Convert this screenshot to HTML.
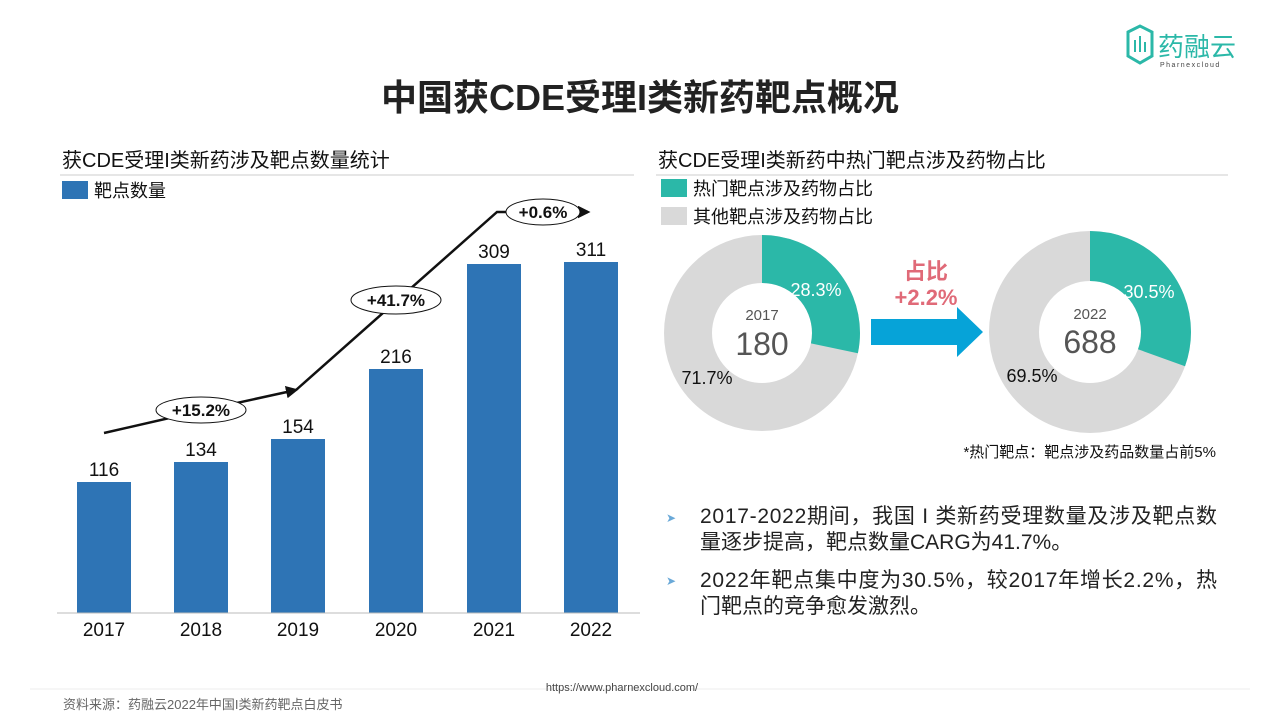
<!DOCTYPE html>
<html><head><meta charset="utf-8"><style>
body{margin:0;width:1280px;height:720px;background:#fff;overflow:hidden;font-family:"Liberation Sans","Noto Sans CJK SC",sans-serif;}
</style></head><body>
<svg width="1280" height="720" xmlns="http://www.w3.org/2000/svg" style="font-family:'Liberation Sans','Noto Sans CJK SC',sans-serif">
<defs><marker id="ah" markerWidth="5" markerHeight="5" refX="4" refY="2.5" orient="auto"><path d="M0,0 L5,2.5 L0,5 z" fill="#111"/></marker></defs>
<!-- logo -->
<path d="M1128,32 L1140,26 L1152,32 L1152,56 L1140,63 L1128,56 Z" fill="none" stroke="#2bb8a8" stroke-width="3"/>
<rect x="1134" y="40" width="2" height="12" fill="#2bb8a8"/><rect x="1139" y="36" width="2" height="16" fill="#2bb8a8"/><rect x="1144" y="42" width="2" height="10" fill="#2bb8a8"/>
<text x="1158" y="56" font-size="26" fill="#2bb8a8">药融云</text>
<text x="1160" y="67" font-size="7" fill="#444" letter-spacing="1.5">Pharnexcloud</text>
<!-- title -->
<text x="640" y="110" font-size="36" font-weight="bold" fill="#222" text-anchor="middle">中国获CDE受理I类新药靶点概况</text>
<text x="62" y="167" font-size="20" fill="#111">获CDE受理I类新药涉及靶点数量统计</text>
<line x1="60" y1="175" x2="634" y2="175" stroke="#ccc"/>
<rect x="62" y="181" width="26" height="18" fill="#2e74b5"/>
<text x="94" y="197" font-size="18" fill="#111">靶点数量</text>
<text x="658" y="167" font-size="20" fill="#111">获CDE受理I类新药中热门靶点涉及药物占比</text>
<line x1="656" y1="175" x2="1228" y2="175" stroke="#ccc"/>
<rect x="661" y="179" width="26" height="18" fill="#2bb8a8"/>
<text x="693" y="195" font-size="18" fill="#111">热门靶点涉及药物占比</text>
<rect x="661" y="207" width="26" height="18" fill="#d9d9d9"/>
<text x="693" y="223" font-size="18" fill="#111">其他靶点涉及药物占比</text>
<!-- bars -->
<g fill="#2e74b5">
<rect x="77" y="482" width="54" height="131"/><rect x="174" y="462" width="54" height="151"/>
<rect x="271" y="439" width="54" height="174"/><rect x="369" y="369" width="54" height="244"/>
<rect x="467" y="264" width="54" height="349"/><rect x="564" y="262" width="54" height="351"/>
</g>
<line x1="57" y1="613" x2="640" y2="613" stroke="#bbb"/>
<g font-size="19" fill="#111" text-anchor="middle">
<text x="104" y="476">116</text><text x="201" y="456">134</text><text x="298" y="433">154</text>
<text x="396" y="363">216</text><text x="494" y="258">309</text><text x="591" y="256">311</text>
<text x="104" y="636">2017</text><text x="201" y="636">2018</text><text x="298" y="636">2019</text>
<text x="396" y="636">2020</text><text x="494" y="636">2021</text><text x="591" y="636">2022</text>
</g>
<polyline points="104,433 200,411 296,390" fill="none" stroke="#111" stroke-width="2.5" marker-end="url(#ah)"/>
<polyline points="296,390 497,212 588,212" fill="none" stroke="#111" stroke-width="2.5" marker-end="url(#ah)"/>
<g font-size="17" font-weight="bold" text-anchor="middle" fill="#111">
<ellipse cx="201" cy="410" rx="45" ry="13" fill="#fff" stroke="#111"/><text x="201" y="416">+15.2%</text>
<ellipse cx="396" cy="300" rx="45" ry="14" fill="#fff" stroke="#111"/><text x="396" y="306">+41.7%</text>
<ellipse cx="543" cy="212" rx="37" ry="13" fill="#fff" stroke="#111"/><text x="543" y="218">+0.6%</text>
</g>
<!-- donuts -->
<g transform="translate(762,333)">
<circle r="74" fill="none" stroke="#d9d9d9" stroke-width="48"/>
<circle r="74" fill="none" stroke="#2bb8a8" stroke-width="48" stroke-dasharray="131.6 465" transform="rotate(-90)"/>
<text x="0" y="-13" font-size="15" fill="#555" text-anchor="middle">2017</text>
<text x="0" y="22" font-size="32" fill="#555" text-anchor="middle">180</text>
<text x="54" y="-37" font-size="18" fill="#fff" text-anchor="middle">28.3%</text>
<text x="-55" y="51" font-size="18" fill="#111" text-anchor="middle">71.7%</text>
</g>
<g transform="translate(1090,332)">
<circle r="76" fill="none" stroke="#d9d9d9" stroke-width="50"/>
<circle r="76" fill="none" stroke="#2bb8a8" stroke-width="50" stroke-dasharray="145.6 478" transform="rotate(-90)"/>
<text x="0" y="-13" font-size="15" fill="#555" text-anchor="middle">2022</text>
<text x="0" y="21" font-size="32" fill="#555" text-anchor="middle">688</text>
<text x="59" y="-34" font-size="18" fill="#fff" text-anchor="middle">30.5%</text>
<text x="-58" y="50" font-size="18" fill="#111" text-anchor="middle">69.5%</text>
</g>
<path d="M871,319 L957,319 L957,307 L983,332 L957,357 L957,345 L871,345 Z" fill="#06a3d8"/>
<text x="926" y="279" font-size="22" font-weight="bold" fill="#e06a78" text-anchor="middle">占比</text>
<text x="926" y="305" font-size="22" font-weight="bold" fill="#e06a78" text-anchor="middle">+2.2%</text>
<text x="1216" y="457" font-size="15" fill="#111" text-anchor="end">*热门靶点：靶点涉及药品数量占前5%</text>
<!-- bullets -->
<g font-size="21" fill="#222">
<text x="666" y="522" font-size="12" fill="#6aa9d8">➤</text>
<text x="700" y="523" textLength="517" lengthAdjust="spacing">2017-2022期间，我国 I 类新药受理数量及涉及靶点数</text>
<text x="700" y="549">量逐步提高，靶点数量CARG为41.7%。</text>
<text x="666" y="585" font-size="12" fill="#6aa9d8">➤</text>
<text x="700" y="587" textLength="517" lengthAdjust="spacing">2022年靶点集中度为30.5%，较2017年增长2.2%，热</text>
<text x="700" y="613">门靶点的竞争愈发激烈。</text>
</g>
<!-- footer -->
<line x1="30" y1="689" x2="1250" y2="689" stroke="#eee"/>
<text x="622" y="691" font-size="11" fill="#444" text-anchor="middle">https://www.pharnexcloud.com/</text>
<text x="63" y="709" font-size="13" fill="#666">资料来源：药融云2022年中国I类新药靶点白皮书</text>
</svg>
</body></html>
